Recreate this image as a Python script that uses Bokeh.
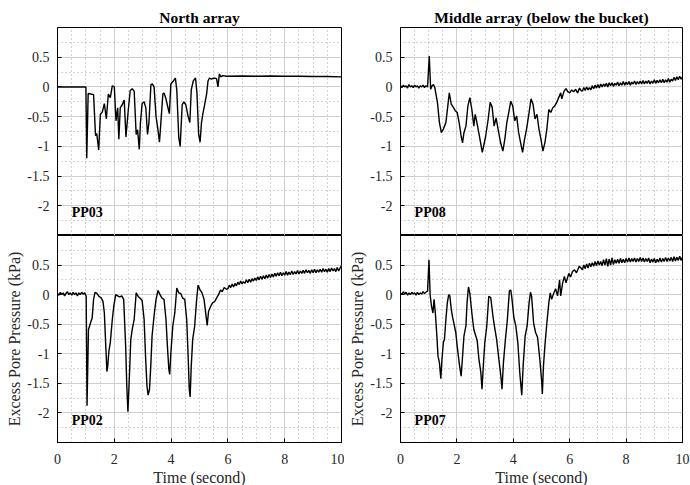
from bokeh.plotting import figure
from bokeh.layouts import gridplot
from bokeh.models import FixedTicker, SingleIntervalTicker, Range1d, Label
from bokeh.embed import file_html
from bokeh.resources import INLINE

# ---------------- data ----------------
# PP03 (North array, upper sensor)
pp03_t = [0, 1.0, 1.03, 1.08, 1.27, 1.34, 1.38, 1.45, 1.51, 1.58, 1.65, 1.72, 1.79, 1.86, 1.93, 2.0,
          2.06, 2.12, 2.16, 2.21, 2.28, 2.35, 2.41, 2.49, 2.56, 2.63, 2.70, 2.77, 2.82, 2.88, 2.92,
          2.98, 3.05, 3.11, 3.17, 3.22, 3.29, 3.34, 3.40, 3.47, 3.54, 3.59, 3.64, 3.71, 3.75, 3.82,
          3.89, 3.94, 3.99, 4.08, 4.15, 4.20, 4.27, 4.32, 4.39, 4.45, 4.52, 4.60, 4.66, 4.71, 4.78,
          4.86, 4.91, 4.97, 5.02, 5.07, 5.12, 5.18, 5.25, 5.30, 5.35, 5.42, 5.50, 5.60, 5.65, 5.70,
          5.75, 5.82, 5.95, 6.5, 7.0, 7.5, 8.0, 8.5, 9.0, 9.5, 10.0]
pp03_v = [0, 0, -1.2, -0.11, -0.13, -0.82, -0.78, -1.06, -0.46, -0.42, -0.28, -0.54, -0.12, -0.18, 0.02, 0.0,
          -0.57, -0.35, -0.88, -0.35, -0.30, -0.22, -0.84, -0.40, -0.06, -0.03, -0.07, -0.80, -0.72, -1.05, -0.60,
          -0.28, -0.25, -0.35, -0.80, -0.60, 0.04, 0.05, 0.0, -0.50, -0.73, -0.93, -0.60, -0.12, -0.10, -0.20,
          -0.35, -0.45, 0.05, 0.10, 0.15, -0.05, -0.85, -1.00, -0.30, -0.25, -0.30, -0.50, -0.60, -0.05, 0.10,
          0.15, -0.10, -0.80, -0.93, -0.60, -0.45, -0.30, -0.12, 0.10, 0.15, 0.13, 0.15, 0.14, 0.0, 0.22,
          0.17, 0.19, 0.18, 0.185, 0.18, 0.185, 0.18, 0.18, 0.175, 0.175, 0.17]

# PP08 (Middle array, upper sensor)
pp08_t = [0, 0.05, 0.1, 0.15, 0.2, 0.25, 0.3, 0.35, 0.4, 0.45, 0.5, 0.55, 0.6, 0.65, 0.7, 0.75, 0.8, 0.85,
          0.9, 0.96, 1.02, 1.07, 1.12, 1.17, 1.22, 1.31, 1.38, 1.45, 1.52, 1.61, 1.73, 1.80, 1.87, 1.94,
          2.01, 2.08, 2.15, 2.20, 2.25, 2.32, 2.39, 2.46, 2.53, 2.60, 2.65, 2.71, 2.80, 2.90, 2.95, 3.02,
          3.11, 3.18, 3.25, 3.32, 3.39, 3.46, 3.55, 3.63, 3.70, 3.77, 3.84, 3.91, 3.98, 4.05, 4.12, 4.19,
          4.26, 4.33, 4.40, 4.47, 4.56, 4.63, 4.70, 4.77, 4.84, 4.91, 4.98, 5.05, 5.12, 5.19, 5.26, 5.33,
          5.40, 5.47, 5.54, 5.61, 5.68, 5.72, 5.80, 5.87, 5.93, 6.00, 6.07, 6.14, 6.21, 6.28, 6.35, 6.40]
pp08_v = [0.02, -0.01, 0.03, 0.0, 0.02, -0.02, 0.04, 0.0, 0.02, -0.01, 0.03, 0.0, 0.02, -0.02, 0.02, 0.0, 0.03, -0.01,
          0.02, 0.0, 0.52, -0.04, 0.02, 0.04, -0.02, -0.26, -0.60, -0.77, -0.71, -0.60, -0.10, -0.29, -0.34, -0.40,
          -0.43, -0.60, -0.83, -0.94, -0.77, -0.66, -0.32, -0.18, -0.38, -0.66, -0.46, -0.60, -0.83, -1.10, -0.99, -0.83,
          -0.54, -0.26, -0.34, -0.66, -0.52, -0.71, -0.94, -1.08, -0.88, -0.60, -0.43, -0.24, -0.32, -0.57, -0.49, -0.77,
          -0.94, -1.10, -0.88, -0.71, -0.43, -0.20, -0.29, -0.54, -0.46, -0.71, -0.88, -1.08, -0.94, -0.71, -0.38, -0.43,
          -0.35, -0.32, -0.26, -0.18, -0.10, -0.20, -0.07, -0.03, -0.08, -0.10, -0.05, -0.08, -0.04, -0.10, -0.02, -0.06]
# noisy tail, sampled every 0.05 s from 6.45 s
pp08_tail_v = [-0.07, -0.01, -0.06, 0.0, -0.05, -0.01, -0.05, 0.02, -0.03, 0.03, -0.02, 0.04,
               -0.02, 0.05, 0.0, 0.05, 0.01, 0.06, 0.0, 0.07, 0.02, 0.07, 0.01, 0.06, 0.03, 0.08, 0.02, 0.07, 0.03, 0.09,
               0.03, 0.08, 0.04, 0.09, 0.03, 0.08, 0.05, 0.10, 0.04, 0.09, 0.05, 0.10, 0.05, 0.11, 0.05, 0.10, 0.06, 0.11,
               0.05, 0.10, 0.06, 0.12, 0.06, 0.11, 0.07, 0.12, 0.07, 0.13, 0.07, 0.12, 0.08, 0.14, 0.08, 0.13, 0.10, 0.16,
               0.11, 0.17, 0.12, 0.18, 0.13, 0.17]

# PP02 (North array, lower sensor)
pp02_t = [0, 0.05, 0.1, 0.15, 0.2, 0.25, 0.3, 0.35, 0.4, 0.45, 0.5, 0.55, 0.6, 0.65, 0.7, 0.75, 0.8, 0.85,
          0.9, 0.96, 1.01, 1.04, 1.09, 1.13, 1.18, 1.22, 1.27, 1.32, 1.39, 1.46, 1.53, 1.60, 1.65, 1.70, 1.74,
          1.77, 1.81, 1.86, 1.93, 1.98, 2.05, 2.12, 2.19, 2.26, 2.33, 2.40, 2.44, 2.48, 2.53, 2.58, 2.63, 2.70,
          2.77, 2.84, 2.91, 2.98, 3.05, 3.10, 3.15, 3.19, 3.24, 3.29, 3.33, 3.40, 3.47, 3.54, 3.61, 3.68, 3.75,
          3.82, 3.87, 3.92, 3.95, 3.99, 4.06, 4.13, 4.20, 4.27, 4.34, 4.41, 4.48, 4.55, 4.60, 4.64, 4.67, 4.71,
          4.76, 4.83, 4.90, 4.95, 5.02, 5.09, 5.16, 5.23, 5.27, 5.32, 5.39, 5.46, 5.53, 5.60, 5.67, 5.74, 5.80,
          5.87, 5.95]
pp02_v = [0.02, -0.01, 0.04, 0.0, 0.03, -0.02, 0.02, 0.05, 0.0, 0.03, -0.01, 0.04, 0.0, 0.03, -0.02, 0.03, 0.0, 0.04,
          0.01, 0.03, -0.03, -1.88, -0.59, -0.53, -0.45, -0.40, -0.08, 0.04, 0.02, -0.03, -0.05, -0.11, -0.31, -0.87, -1.30,
          -1.20, -0.95, -0.81, -0.42, -0.20, 0.0, -0.02, -0.04, -0.02, -0.08, -0.87, -1.54, -1.98, -1.40, -0.76, -0.59, -0.42,
          0.03, -0.03, -0.06, -0.10, -0.42, -1.04, -1.54, -1.70, -1.60, -1.15, -0.70, -0.36, -0.08, 0.07, 0.0, -0.06, -0.08,
          -0.42, -0.87, -1.26, -1.35, -1.00, -0.53, -0.31, 0.11, 0.03, 0.02, -0.06, -0.08, -0.42, -1.04, -1.60, -1.73, -1.20,
          -0.76, -0.53, -0.08, 0.16, 0.08, 0.03, -0.08, -0.36, -0.52, -0.28, -0.20, -0.14, -0.12, -0.06, 0.0, 0.08, 0.05,
          0.12, 0.09]
# noisy tail, sampled every 0.05 s from 6.0 s
pp02_tail_v = [0.10, 0.16, 0.12, 0.18, 0.13, 0.19, 0.15, 0.21, 0.17, 0.23, 0.18, 0.22, 0.19, 0.25, 0.20, 0.26,
               0.21, 0.27, 0.23, 0.28, 0.24, 0.30, 0.25, 0.31, 0.26, 0.32, 0.27, 0.33, 0.28, 0.34, 0.29, 0.35,
               0.30, 0.36, 0.31, 0.37, 0.32, 0.38, 0.32, 0.37, 0.33, 0.39, 0.33, 0.38, 0.34, 0.40, 0.34, 0.39,
               0.35, 0.41, 0.35, 0.40, 0.36, 0.41, 0.36, 0.42, 0.37, 0.41, 0.36, 0.42, 0.37, 0.43, 0.37, 0.42,
               0.38, 0.43, 0.38, 0.44, 0.39, 0.43, 0.38, 0.44, 0.39, 0.45, 0.40, 0.44, 0.39, 0.46, 0.40, 0.45, 0.49]

# PP07 (Middle array, lower sensor)
pp07_t = [0, 0.05, 0.1, 0.15, 0.2, 0.25, 0.3, 0.35, 0.4, 0.45, 0.5, 0.55, 0.6, 0.65, 0.7, 0.75, 0.8, 0.85,
          0.9, 0.96, 1.01, 1.05, 1.10, 1.15, 1.19, 1.24, 1.29, 1.33, 1.38, 1.43, 1.47, 1.52, 1.56, 1.61, 1.66,
          1.71, 1.75, 1.80, 1.85, 1.90, 1.96, 2.01, 2.08, 2.15, 2.20, 2.25, 2.32, 2.36, 2.41, 2.46, 2.53, 2.60,
          2.67, 2.72, 2.78, 2.85, 2.89, 2.95, 2.99, 3.06, 3.13, 3.20, 3.28, 3.35, 3.41, 3.49, 3.56, 3.60, 3.65,
          3.72, 3.79, 3.86, 3.91, 3.95, 4.02, 4.09, 4.16, 4.23, 4.30, 4.35, 4.42, 4.49, 4.56, 4.61, 4.65, 4.72,
          4.79, 4.86, 4.94, 5.01, 5.03, 5.07, 5.12, 5.19, 5.26, 5.31, 5.36, 5.43, 5.50, 5.57, 5.64, 5.68, 5.75,
          5.81, 5.87, 5.97, 6.03, 6.10, 6.17, 6.24, 6.34, 6.40]
pp07_v = [0.03, 0.0, 0.05, 0.01, 0.04, -0.01, 0.03, 0.0, 0.04, 0.01, 0.03, -0.01, 0.04, 0.0, 0.03, 0.01, 0.05, 0.02,
          0.04, 0.06, 0.59, 0.0, -0.20, -0.31, -0.08, -0.34, -0.70, -1.04, -1.15, -1.42, -1.10, -0.81, -0.75, -0.42, -0.14,
          0.0, -0.02, -0.25, -0.39, -0.50, -0.64, -0.87, -1.15, -1.38, -1.05, -0.70, -0.53, -0.14, 0.13, 0.02, -0.31, -0.59,
          -0.70, -0.78, -1.09, -1.32, -1.60, -1.10, -0.81, -0.53, -0.03, -0.05, -0.37, -0.59, -0.76, -1.10, -1.38, -1.60, -1.15,
          -0.76, -0.42, 0.06, 0.08, -0.06, -0.39, -0.53, -0.81, -1.32, -1.70, -1.20, -0.70, -0.53, -0.14, 0.04, -0.03, -0.48,
          -0.64, -0.72, -1.09, -1.49, -1.68, -1.20, -0.87, -0.48, -0.14, 0.03, -0.08, 0.02, 0.10, -0.02, 0.25, -0.02, 0.20,
          0.31, 0.20, 0.36, 0.30, 0.39, 0.42, 0.37, 0.48, 0.45]
# noisy tail, sampled every 0.05 s from 6.45 s
pp07_tail_v = [0.42, 0.50, 0.44, 0.52, 0.45, 0.53, 0.47, 0.54, 0.48, 0.56, 0.49, 0.57,
               0.50, 0.56, 0.49, 0.59, 0.50, 0.61, 0.48, 0.60, 0.50, 0.62, 0.51, 0.59, 0.53, 0.60, 0.53, 0.61, 0.54, 0.60,
               0.54, 0.61, 0.55, 0.62, 0.55, 0.61, 0.56, 0.62, 0.55, 0.61, 0.56, 0.63, 0.56, 0.62, 0.55, 0.61, 0.56, 0.62,
               0.54, 0.60, 0.55, 0.61, 0.54, 0.60, 0.55, 0.62, 0.55, 0.61, 0.56, 0.63, 0.56, 0.62, 0.57, 0.63, 0.56, 0.64,
               0.57, 0.63, 0.58, 0.65, 0.58, 0.63]

SAMPLE_DT = 0.05
pp08_all_t = pp08_t + [round(6.45 + SAMPLE_DT * i, 2) for i in range(len(pp08_tail_v))]
pp08_all_v = pp08_v + pp08_tail_v
pp02_all_t = pp02_t + [round(6.0 + SAMPLE_DT * i, 2) for i in range(len(pp02_tail_v))]
pp02_all_v = pp02_v + pp02_tail_v
pp07_all_t = pp07_t + [round(6.45 + SAMPLE_DT * i, 2) for i in range(len(pp07_tail_v))]
pp07_all_v = pp07_v + pp07_tail_v

titles = ["North array", "Middle array (below the bucket)"]
tags = [["PP03", "PP08"], ["PP02", "PP07"]]
y_ticks = [-2, -1.5, -1, -0.5, 0, 0.5]
y_minor = [-2.25, -1.75, -1.25, -0.75, -0.25, 0.25, 0.75]
y_labels = {-2: "-2", -1.5: "-1.5", -1: "-1", -0.5: "-0.5", 0: "0", 0.5: "0.5"}
x_label = "Time (second)"
y_label = "Excess Pore Pressure (kPa)"

FONT = "Liberation Serif"
TXT = "#262626"


def make(row, col, t, v):
    top = row == 0
    left = col == 0
    fw = 284 if left else 282
    bl = 57 if left else 56
    br = 3 if left else 8
    bt = 27 if top else 0
    bb = 0 if top else 43
    p = figure(frame_width=fw, frame_height=208 if top else 207,
               x_range=Range1d(0, 10), y_range=Range1d(-2.5, 1.0),
               output_backend="svg", toolbar_location=None,
               min_border_left=bl, min_border_right=br,
               min_border_top=bt, min_border_bottom=bb,
               title=titles[col] if top else None)
    p.background_fill_color = "white"
    p.border_fill_color = "white"
    p.outline_line_color = "black"
    p.outline_line_width = 1
    if top:
        p.title.text_font = FONT
        p.title.text_font_style = "bold"
        p.title.text_font_size = "15.5px"
        p.title.align = "center"
        p.title.text_color = "black"
        p.title.standoff = 4

    p.xaxis.ticker = SingleIntervalTicker(interval=2, num_minor_ticks=4)
    p.yaxis.ticker = FixedTicker(ticks=y_ticks, minor_ticks=y_minor)
    p.yaxis.major_label_overrides = y_labels

    for ax in (p.xaxis, p.yaxis):
        ax.axis_line_color = "black"
        ax.major_tick_in = 4
        ax.major_tick_out = 0
        ax.major_tick_line_color = "black"
        ax.minor_tick_line_color = None
        ax.major_label_text_font = FONT
        ax.major_label_text_font_size = "14px"
        ax.major_label_text_color = TXT
        ax.axis_label_text_font = FONT
        ax.axis_label_text_font_size = "16px"
        ax.axis_label_text_font_style = "normal"
        ax.axis_label_text_color = TXT
    p.yaxis.major_label_standoff = 4
    p.yaxis.axis_label_standoff = 1
    p.xaxis.major_label_standoff = 7
    p.xaxis.axis_label_standoff = 2

    if top:
        p.xaxis.visible = False
    else:
        p.xaxis.axis_label = x_label
        p.yaxis.axis_label = y_label

    for g in (p.xgrid, p.ygrid):
        g.grid_line_color = "#cfcfcf"
        g.grid_line_width = 1
        g.minor_grid_line_color = "#a8a8a8"
        g.minor_grid_line_dash = "1 3"
        g.minor_grid_line_width = 1

    p.line(t, v, line_color="black", line_width=1.4)
    p.add_layout(Label(x=0.5, y=-2.12, text=tags[row][col], text_font=FONT,
                       text_font_style="bold", text_font_size="14px",
                       text_baseline="middle", text_color="black"))
    return p


p1 = make(0, 0, pp03_t, pp03_v)
p2 = make(0, 1, pp08_all_t, pp08_all_v)
p3 = make(1, 0, pp02_all_t, pp02_all_v)
p4 = make(1, 1, pp07_all_t, pp07_all_v)

grid = gridplot([[p1, p2], [p3, p4]], toolbar_location=None)

open("out.html", "w").write(file_html(grid, INLINE))
